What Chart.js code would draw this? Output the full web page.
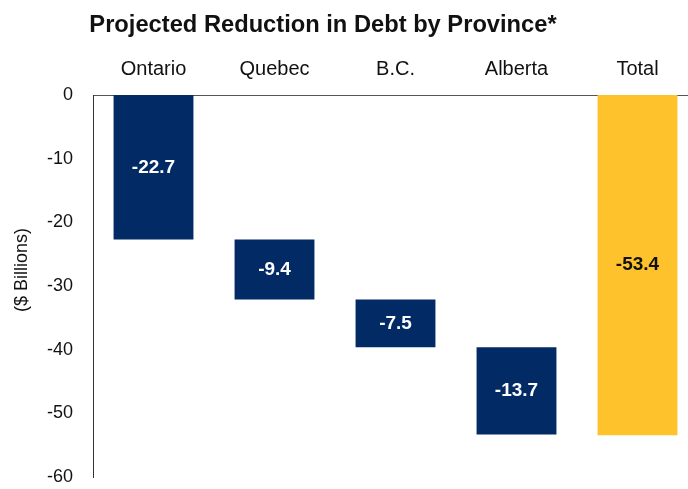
<!DOCTYPE html>
<html>
<head>
<meta charset="utf-8">
<script src="https://cdn.jsdelivr.net/npm/chart.js@4/dist/chart.umd.min.js"></script>
<style>
    html, body { margin: 0; padding: 0; background: #fff; overflow: hidden; }
    #wrap { width: 688px; height: 489px; overflow: hidden; }
</style>
</head>
<body>
<div id="wrap"><canvas id="debtChart" width="700" height="508"></canvas></div>
<script>
// Projected reduction in debt by province - waterfall
const categories = ['Ontario', 'Quebec', 'B.C.', 'Alberta', 'Total'];
const changes = [-22.7, -9.4, -7.5, -13.7, -53.4];
const isTotal = [false, false, false, false, true];
const yMin = -60;
const yMax = 0;
const yStep = 10;

const NAVY = '#022b65';
const GOLD = '#fdc22c';
const FONT = "'Liberation Sans', Arial, sans-serif";

// Build floating ranges for the waterfall
const ranges = [];
let running = 0;
changes.forEach((v, i) => {
    if (isTotal[i]) {
        ranges.push([0, v]);
    } else {
        ranges.push([running, running + v]);
        running += v;
    }
});

// Title, y-axis caption and value labels
const annotations = {
    id: 'annotations',
    afterDatasetsDraw(chart) {
        const ctx = chart.ctx;
        ctx.save();

        // title, slightly stretched like the original
        ctx.save();
        ctx.translate(323, 32);
        ctx.scale(1.03, 1);
        ctx.fillStyle = '#111';
        ctx.font = 'bold 23px ' + FONT;
        ctx.textAlign = 'center';
        ctx.textBaseline = 'alphabetic';
        ctx.fillText('Projected Reduction in Debt by Province*', 0, 0);
        ctx.restore();

        ctx.save();
        ctx.translate(22, 270);
        ctx.rotate(-Math.PI / 2);
        ctx.font = '18px ' + FONT;
        ctx.fillStyle = '#111';
        ctx.textAlign = 'center';
        ctx.textBaseline = 'middle';
        ctx.fillText('($ Billions)', 0, 0);
        ctx.restore();

        const meta = chart.getDatasetMeta(0);
        ctx.textAlign = 'center';
        ctx.textBaseline = 'middle';
        meta.data.forEach((bar, i) => {
            const cy = (bar.y + bar.base) / 2;
            ctx.font = 'bold 19px ' + FONT;
            ctx.fillStyle = isTotal[i] ? '#111' : '#fff';
            ctx.fillText(changes[i].toFixed(1), bar.x, cy);
        });
        ctx.restore();
    }
};

const ctx = document.getElementById('debtChart').getContext('2d');
new Chart(ctx, {
    type: 'bar',
    data: {
        labels: categories,
        datasets: [{
            data: ranges,
            backgroundColor: isTotal.map(t => t ? GOLD : NAVY),
            borderWidth: 0,
            borderSkipped: false,
            barPercentage: 0.66,
            categoryPercentage: 1.0
        }]
    },
    options: {
        responsive: false,
        animation: false,
        layout: { padding: { top: 0, right: 2, bottom: 14, left: 0 } },
        plugins: {
            legend: { display: false },
            tooltip: { enabled: false },
            title: { display: false }
        },
        scales: {
            x: {
                position: 'top',
                grid: { display: false, drawTicks: false },
                border: { display: true, color: '#555', width: 1 },
                ticks: {
                    color: '#111',
                    padding: 14,
                    font: { size: 20, family: FONT }
                },
                afterFit(scale) { scale.height = 95; }
            },
            y: {
                min: yMin,
                max: yMax,
                grid: { display: false, drawTicks: false },
                border: { display: true, color: '#333', width: 1 },
                ticks: {
                    stepSize: yStep,
                    color: '#111',
                    padding: 20,
                    font: { size: 18, family: FONT }
                },
                afterFit(scale) { scale.width = 93; }
            }
        }
    },
    plugins: [annotations]
});
</script>
</body>
</html>
